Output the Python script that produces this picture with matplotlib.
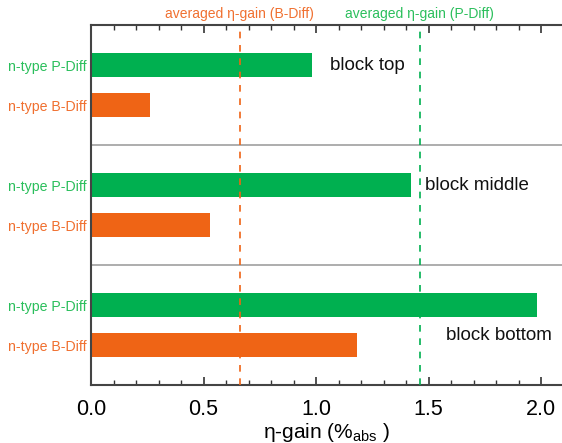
import matplotlib
matplotlib.use("Agg")
import matplotlib.pyplot as plt
from matplotlib.ticker import MultipleLocator

plt.rcParams['font.family'] = ['Liberation Sans', 'DejaVu Sans']
plt.rcParams['mathtext.fontset'] = 'custom'
plt.rcParams['mathtext.rm'] = 'Liberation Sans'

# Data
blocks = ["block top", "block middle", "block bottom"]
p_diff = [0.98, 1.42, 1.98]
b_diff = [0.26, 0.53, 1.18]
avg_b = 0.66
avg_p = 1.46
label_p = "n-type P-Diff"
label_b = "n-type B-Diff"

green = "#00b050"
orange = "#ef6415"
green_txt = "#2bbf5c"
orange_txt = "#f07030"

fig = plt.figure(figsize=(5.62, 4.43), dpi=100)
ax = fig.add_axes([91/562, 58/443, 471/562, 360/443])

# positions: top block highest
p_pos = [8, 5, 2]
b_pos = [7, 4, 1]
bh = 0.6
ax.barh(p_pos, p_diff, height=bh, color=green, zorder=2)
ax.barh(b_pos, b_diff, height=bh, color=orange, zorder=2)

for y in [3, 6]:
    ax.axhline(y, color="#a0a0a0", lw=1.2, zorder=1)

ax.axvline(avg_b, color=orange, lw=1.2, ls=(0, (4, 4)), zorder=3)
ax.axvline(avg_p, color=green, lw=1.2, ls=(0, (4, 4)), zorder=3)

ax.text(avg_b, 1.012, "averaged η-gain (B-Diff)", transform=ax.get_xaxis_transform(),
        ha="center", va="bottom", color=orange_txt, fontsize=10)
ax.text(avg_p, 1.012, "averaged η-gain (P-Diff)", transform=ax.get_xaxis_transform(),
        ha="center", va="bottom", color=green_txt, fontsize=10)

ax.text(1.06, 8.0, blocks[0], fontsize=13.5, va="center", ha="left", color="#111111")
ax.text(1.485, 5.0, blocks[1], fontsize=13.5, va="center", ha="left", color="#111111")
ax.text(1.58, 1.25, blocks[2], fontsize=13.5, va="center", ha="left", color="#111111")

ax.set_xlim(0, 471/225)
ax.set_ylim(0, 9)

yt = p_pos + b_pos
ylabels = [label_p]*3 + [label_b]*3
ax.set_yticks(yt)
ax.set_yticklabels(ylabels, fontsize=10.2)
for lab, c in zip(ax.get_yticklabels(), [green_txt]*3 + [orange_txt]*3):
    lab.set_color(c)
ax.tick_params(axis='y', length=0, pad=3)

ax.xaxis.set_major_locator(MultipleLocator(0.5))
ax.xaxis.set_minor_locator(MultipleLocator(0.1))
ax.tick_params(axis='x', which='major', direction='in', length=6, width=1.2,
               top=True, labelsize=15.5, pad=10, color="#333333")
ax.tick_params(axis='x', which='minor', direction='in', length=3.5, width=1.0,
               top=True, color="#333333")

ax.set_xlabel("η-gain (%$_{\\mathrm{abs}}$ )", fontsize=15, labelpad=1)

for s in ["left", "bottom", "top"]:
    ax.spines[s].set_color("#444444")
    ax.spines[s].set_linewidth(1.5)
ax.spines["right"].set_visible(False)

fig.savefig("out.png", dpi=100)
